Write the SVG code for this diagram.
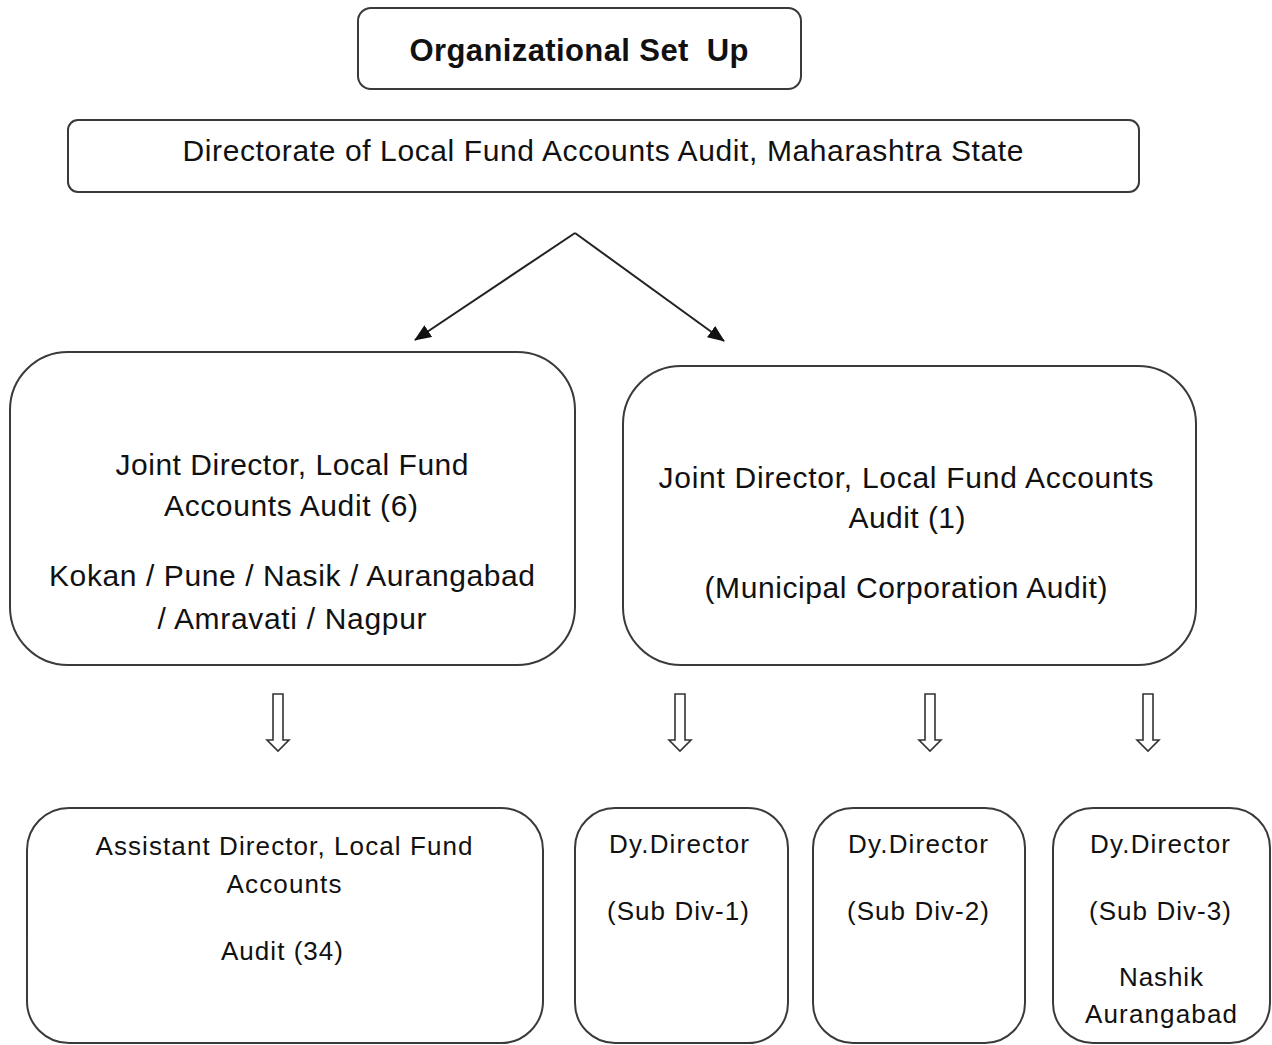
<svg xmlns="http://www.w3.org/2000/svg" width="1272" height="1045" viewBox="0 0 1272 1045">
<defs>
<style>
.box{fill:#fff;stroke:#3a3a3a;stroke-width:2}
.t{font-family:"Liberation Sans",Arial,sans-serif;fill:#111;text-anchor:middle}
.conn{stroke:#222;stroke-width:2;fill:none}
.blk{fill:#fff;stroke:#333;stroke-width:1.6}
</style>
<marker id="ah" markerUnits="userSpaceOnUse" markerWidth="18" markerHeight="14" refX="16" refY="7" orient="auto">
<path d="M0,0 L17,7 L0,14 Z" fill="#111"/>
</marker>
</defs>
<rect width="1272" height="1045" fill="#fff"/>

<g id="title">
<rect class="box" x="358" y="8" width="443" height="81" rx="13"/>
<text class="t" x="579" y="61" font-size="31" font-weight="bold" style="white-space:pre" textLength="339" lengthAdjust="spacing">Organizational Set  Up</text>
</g>

<g id="directorate">
<rect class="box" x="68" y="120" width="1071" height="72" rx="10"/>
<text class="t" x="603" y="161" font-size="30" textLength="841" lengthAdjust="spacing">Directorate of Local Fund Accounts Audit, Maharashtra State</text>
</g>

<g id="jd6">
<rect class="box" x="10" y="352" width="565" height="313" rx="58"/>
<text class="t" x="292" y="475" font-size="30" textLength="353" lengthAdjust="spacing">Joint Director, Local Fund</text>
<text class="t" x="291" y="516" font-size="30" textLength="254" lengthAdjust="spacing">Accounts Audit (6)</text>
<text class="t" x="292" y="586" font-size="30" textLength="486" lengthAdjust="spacing">Kokan / Pune / Nasik / Aurangabad</text>
<text class="t" x="292" y="629" font-size="30" textLength="269" lengthAdjust="spacing">/ Amravati / Nagpur</text>
</g>

<g id="jd1">
<rect class="box" x="623" y="366" width="573" height="299" rx="58"/>
<text class="t" x="906" y="488" font-size="30" textLength="495" lengthAdjust="spacing">Joint Director, Local Fund Accounts</text>
<text class="t" x="907" y="528" font-size="30" textLength="117" lengthAdjust="spacing">Audit (1)</text>
<text class="t" x="906" y="598" font-size="30" textLength="403" lengthAdjust="spacing">(Municipal Corporation Audit)</text>
</g>

<g id="asst">
<rect class="box" x="27" y="808" width="516" height="235" rx="42"/>
<text class="t" x="284" y="855" font-size="26" textLength="377" lengthAdjust="spacing">Assistant Director, Local Fund</text>
<text class="t" x="284" y="893" font-size="26" textLength="115" lengthAdjust="spacing">Accounts</text>
<text class="t" x="282" y="960" font-size="26" textLength="122" lengthAdjust="spacing">Audit (34)</text>
</g>

<g id="dy1">
<rect class="box" x="575" y="808" width="213" height="235" rx="40"/>
<text class="t" x="679" y="853" font-size="26" textLength="140" lengthAdjust="spacing">Dy.Director</text>
<text class="t" x="678" y="920" font-size="26" textLength="142" lengthAdjust="spacing">(Sub Div-1)</text>
</g>

<g id="dy2">
<rect class="box" x="813" y="808" width="212" height="235" rx="40"/>
<text class="t" x="918" y="853" font-size="26" textLength="140" lengthAdjust="spacing">Dy.Director</text>
<text class="t" x="918" y="920" font-size="26" textLength="142" lengthAdjust="spacing">(Sub Div-2)</text>
</g>

<g id="dy3">
<rect class="box" x="1053" y="808" width="217" height="235" rx="40"/>
<text class="t" x="1160" y="853" font-size="26" textLength="140" lengthAdjust="spacing">Dy.Director</text>
<text class="t" x="1160" y="920" font-size="26" textLength="142" lengthAdjust="spacing">(Sub Div-3)</text>
<text class="t" x="1161" y="986" font-size="26" textLength="84" lengthAdjust="spacing">Nashik</text>
<text class="t" x="1161" y="1023" font-size="26" textLength="152" lengthAdjust="spacing">Aurangabad</text>
</g>

<g id="connectors">
<line class="conn" x1="575" y1="233" x2="415" y2="340" marker-end="url(#ah)"/>
<line class="conn" x1="575" y1="233" x2="724" y2="341" marker-end="url(#ah)"/>
<path class="blk" d="M273,694 H283 V740 H289 L278,751 L267,740 H273 Z"/>
<path class="blk" d="M675,694 H685 V740 H691 L680,751 L669,740 H675 Z"/>
<path class="blk" d="M925,694 H935 V740 H941 L930,751 L919,740 H925 Z"/>
<path class="blk" d="M1143,694 H1153 V740 H1159 L1148,751 L1137,740 H1143 Z"/>
</g>
</svg>
